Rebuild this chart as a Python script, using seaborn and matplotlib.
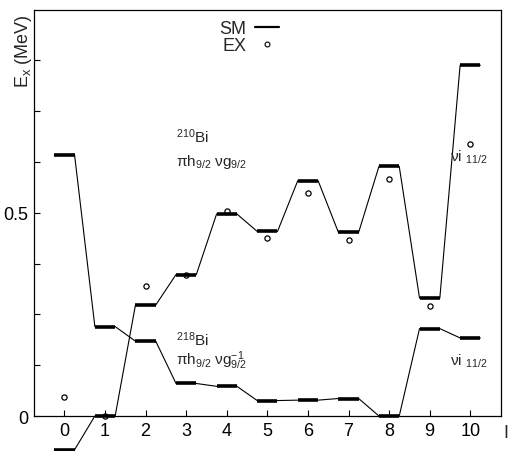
import matplotlib
matplotlib.use("Agg")
import matplotlib.pyplot as plt
import seaborn as sns
import numpy as np
import pandas as pd
from matplotlib.lines import Line2D

# ---- data ----
spins = [0, 1, 2, 3, 4, 5, 6, 7, 8, 9, 10]
sm_210bi = [-0.083, 0.0, 0.273, 0.348, 0.497, 0.454, 0.579, 0.452, 0.614, 0.290, 0.863]
sm_218bi = [0.642, 0.220, 0.184, 0.080, 0.073, 0.038, 0.039, 0.043, 0.0, 0.215, 0.192]
ex_vals = [0.047, 0.0, 0.321, 0.348, 0.504, 0.438, 0.549, 0.432, 0.582, 0.270, 0.668]
ytick_major = [0, 0.5]
ytick_labels = ["0", "0.5"]

sns.set_theme(style="ticks")
plt.rcParams['font.family'] = ['Liberation Sans', 'DejaVu Sans']
plt.rcParams['mathtext.fontset'] = 'custom'
plt.rcParams['mathtext.rm'] = 'Liberation Sans'
plt.rcParams['mathtext.it'] = 'Liberation Sans:italic'
plt.rcParams['mathtext.default'] = 'regular'

fig = plt.figure(figsize=(5.14, 4.52), dpi=100)
ax = fig.add_axes([34/514, 1-417/452, (500.7-34)/514, (417-10.5)/452])

ex_df = pd.DataFrame({"J": spins, "E": ex_vals})
sns.scatterplot(data=ex_df, x="J", y="E", ax=ax, marker="o", s=14,
                facecolor="white", edgecolor="black", linewidth=0.9,
                zorder=1, clip_on=False)

hw = 0.25
for series in (sm_210bi, sm_218bi):
    xs, ys = [], []
    for j, e in zip(spins, series):
        xs += [j - hw, j + hw]
        ys += [e, e]
    df = pd.DataFrame({"x": xs, "y": ys})
    sns.lineplot(data=df, x="x", y="y", sort=False, estimator=None, ax=ax,
                 color="black", lw=0.8, clip_on=False, zorder=2)
    ax.hlines(series, np.array(spins) - hw, np.array(spins) + hw,
              color="black", lw=2.6, clip_on=False, zorder=3)

ax.set_xlim(-0.75, 10.75)
ax.set_ylim(0, 1.0)
ax.set_xticks(spins)
ax.set_xticklabels([str(s) for s in spins])
ax.set_yticks(ytick_major)
ax.set_yticklabels(ytick_labels)
ax.set_yticks(np.arange(0, 1.0, 0.125), minor=True)
ax.tick_params(axis="both", which="both", direction="in", length=4, width=0.8,
               labelsize=13, color="black", labelcolor="black", pad=4)
ax.tick_params(axis="y", which="minor", length=4)
for s in ax.spines.values():
    s.set_visible(True)
    s.set_color("black")
    s.set_linewidth(0.9)
ax.set_xlabel("")
ax.set_ylabel("")

fig.text(24/514, 1-51/452, r"E$_{\rm x}$ (MeV)", rotation=90, fontsize=13,
         ha="center", va="center")
fig.text(503/514, 1-434/452, "I", fontsize=13, ha="left", va="center")

ax.text(2.75, 0.69, r"$^{210}$Bi", fontsize=11, ha="left", va="center")
ax.text(2.75, 0.628, r"πh$_{9/2}$ νg$_{9/2}$", fontsize=11, ha="left", va="center")
ax.text(2.75, 0.19, r"$^{218}$Bi", fontsize=11, ha="left", va="center")
ax.text(2.75, 0.138, r"πh$_{9/2}$ νg$^{-1}_{9/2}$", fontsize=11, ha="left", va="center")
ax.text(9.5, 0.64, r"νi $_{11/2}$", fontsize=11, ha="left", va="center")
ax.text(9.5, 0.138, r"νi $_{11/2}$", fontsize=11, ha="left", va="center")

handles = [Line2D([], [], color="black", lw=1.6),
           Line2D([], [], color="black", lw=0, marker="o", markersize=3.5,
                  markerfacecolor="white", markeredgewidth=0.8)]
ax.legend(handles, ["SM", "EX"], loc="upper left", bbox_to_anchor=(0.37, 1.005),
          frameon=False, markerfirst=False, fontsize=13, handlelength=1.3,
          handletextpad=0.5, labelspacing=0.0, borderpad=0.2)

fig.savefig("out.png", dpi=100)
